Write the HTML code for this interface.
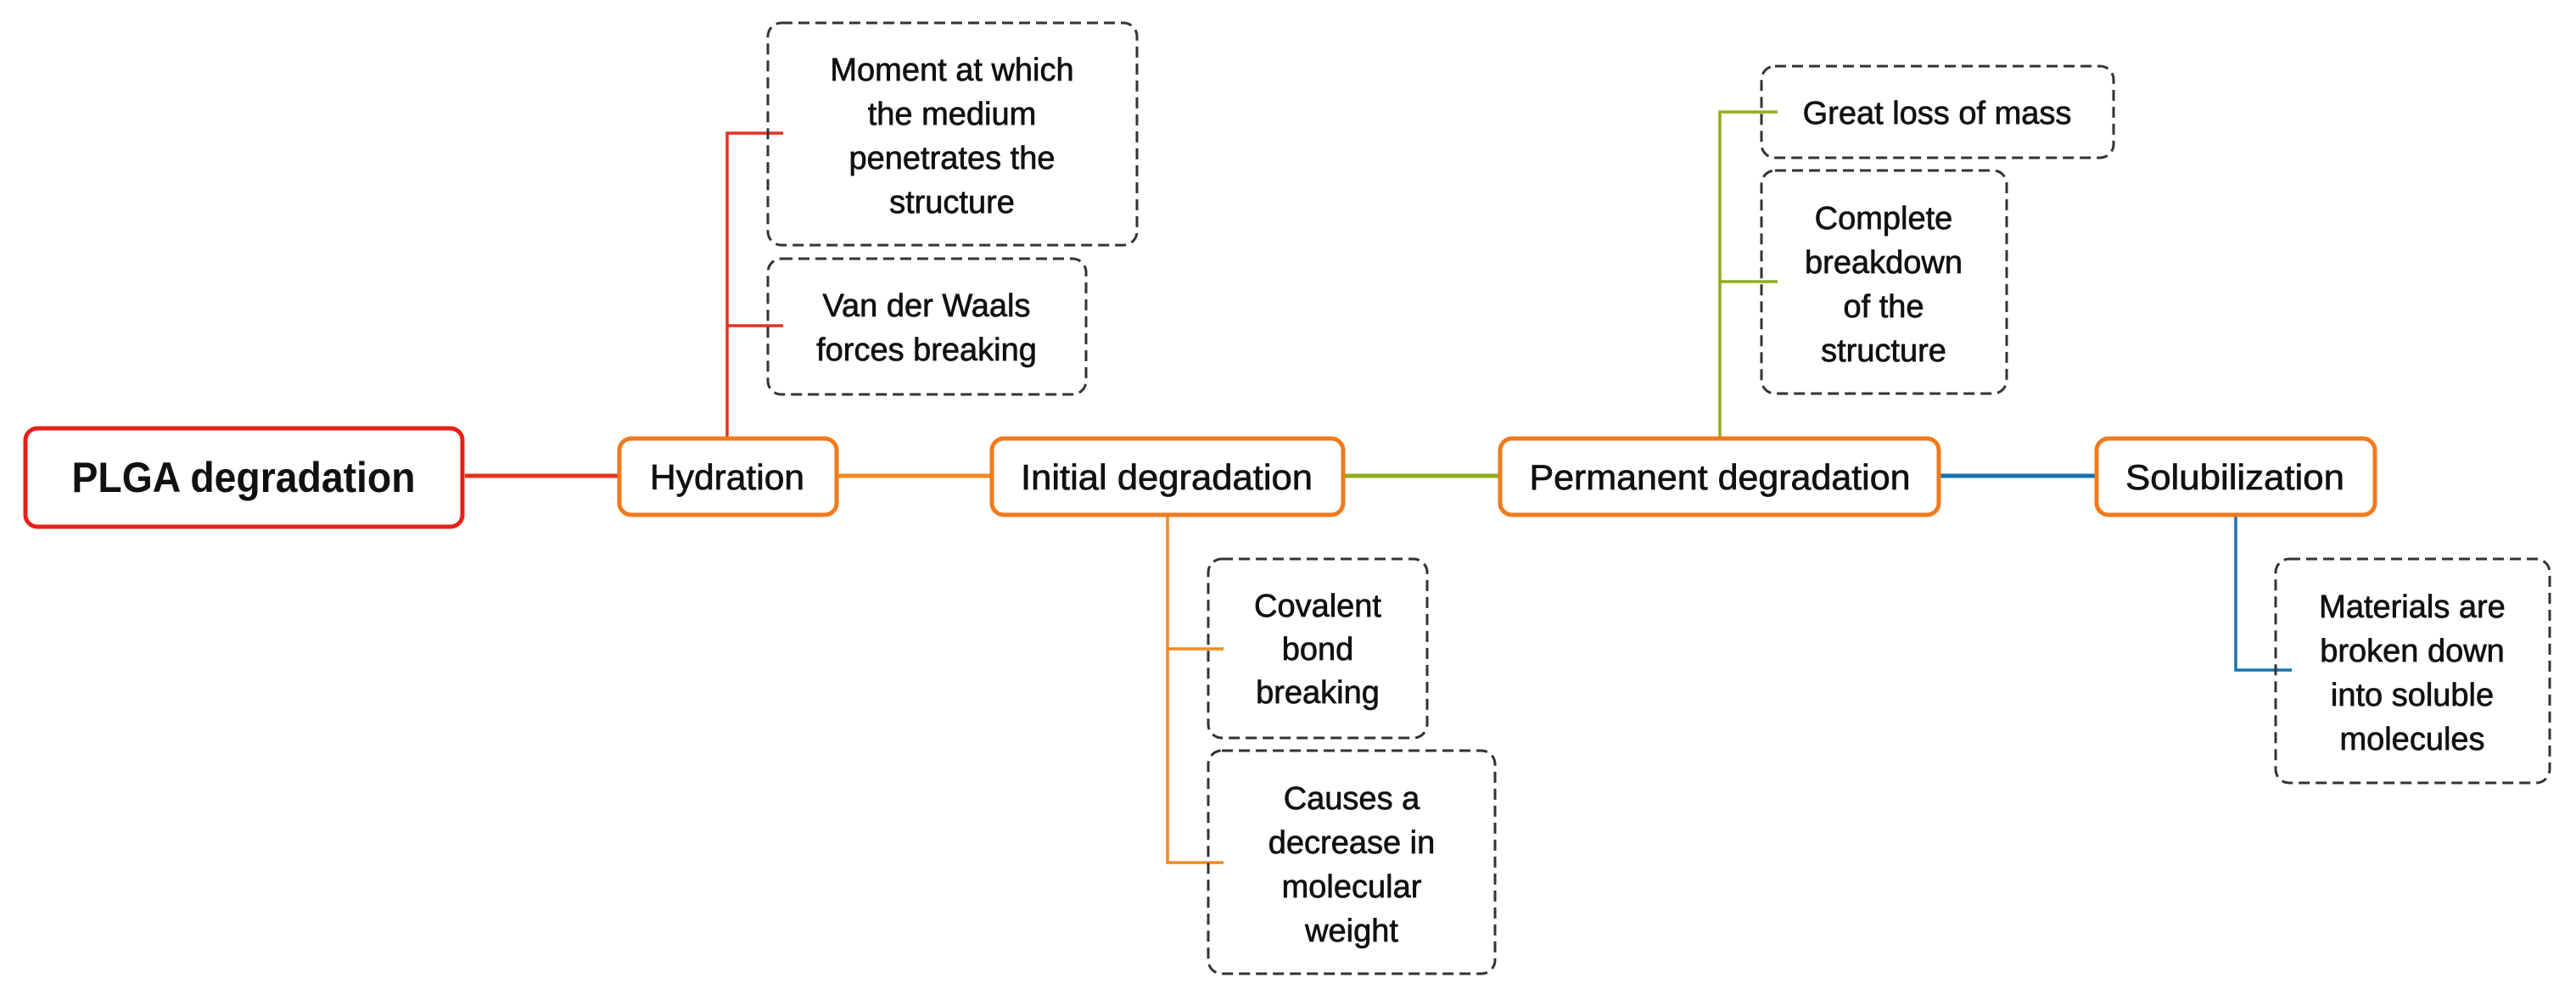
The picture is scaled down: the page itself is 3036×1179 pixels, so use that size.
<!DOCTYPE html>
<html><head><meta charset="utf-8"><style>
html,body{margin:0;padding:0;background:#fff;}
svg{display:block;}
text{font-family:"Liberation Sans",Arial,sans-serif;fill:#111;stroke:#111;stroke-width:0.7;}
.c{font-size:38px;text-anchor:middle;}
.m{font-size:42px;text-anchor:middle;}
.d{fill:none;stroke:#333;stroke-width:3;stroke-dasharray:13 7;}
.o{fill:#fff;stroke:#f07a1c;stroke-width:5;}
</style></head><body>
<svg width="3036" height="1179" viewBox="0 0 3036 1179" xmlns="http://www.w3.org/2000/svg">
<line x1="548" y1="561" x2="728" y2="561" stroke="#e5321e" stroke-width="5"/>
<line x1="987" y1="561" x2="1167" y2="561" stroke="#f08a24" stroke-width="5"/>
<line x1="1584" y1="561" x2="1766" y2="561" stroke="#8fae1f" stroke-width="5"/>
<line x1="2286" y1="561" x2="2470" y2="561" stroke="#1a72ae" stroke-width="5"/>
<g stroke="#e5321e" stroke-width="3.5" fill="none">
<polyline points="857,515 857,157 923,157"/><line x1="857" y1="384" x2="923" y2="384"/></g>
<g stroke="#f08a24" stroke-width="3.5" fill="none">
<polyline points="1376,608 1376,1017 1442,1017"/><line x1="1376" y1="765" x2="1442" y2="765"/></g>
<g stroke="#8fae1f" stroke-width="3.5" fill="none">
<polyline points="2027,515 2027,132 2095,132"/><line x1="2027" y1="332" x2="2095" y2="332"/></g>
<g stroke="#1a72ae" stroke-width="3.5" fill="none">
<polyline points="2635,608 2635,790 2701,790"/></g>
<rect x="30" y="505" width="515" height="116" rx="14" fill="#fff" stroke="#e5211a" stroke-width="5"/>
<text x="287" y="580" style="font-size:50px;font-weight:bold;text-anchor:middle;stroke-width:0" textLength="405" lengthAdjust="spacingAndGlyphs">PLGA degradation</text>
<rect class="o" x="730" y="517" width="256" height="90" rx="14"/>
<text class="m" x="857" y="577" textLength="182" lengthAdjust="spacingAndGlyphs">Hydration</text>
<rect class="o" x="1169" y="517" width="414" height="90" rx="14"/>
<text class="m" x="1375" y="577" textLength="344" lengthAdjust="spacingAndGlyphs">Initial degradation</text>
<rect class="o" x="1768" y="517" width="517" height="90" rx="14"/>
<text class="m" x="2027" y="577" textLength="449" lengthAdjust="spacingAndGlyphs">Permanent degradation</text>
<rect class="o" x="2471" y="517" width="328" height="90" rx="14"/>
<text class="m" x="2634" y="577" textLength="258" lengthAdjust="spacingAndGlyphs">Solubilization</text>
<rect class="d" x="905" y="27" width="435" height="262" rx="16"/>
<text class="c" x="1122" y="95">Moment at which</text>
<text class="c" x="1122" y="147">the medium</text>
<text class="c" x="1122" y="199">penetrates the</text>
<text class="c" x="1122" y="251">structure</text>
<rect class="d" x="905" y="305" width="375" height="160" rx="16"/>
<text class="c" x="1092" y="373">Van der Waals</text>
<text class="c" x="1092" y="425">forces breaking</text>
<rect class="d" x="1424" y="659" width="258" height="211" rx="16"/>
<text class="c" x="1553" y="727">Covalent</text>
<text class="c" x="1553" y="778">bond</text>
<text class="c" x="1553" y="829">breaking</text>
<rect class="d" x="1424" y="885" width="338" height="263" rx="16"/>
<text class="c" x="1593" y="954">Causes a</text>
<text class="c" x="1593" y="1006">decrease in</text>
<text class="c" x="1593" y="1058">molecular</text>
<text class="c" x="1593" y="1110">weight</text>
<rect class="d" x="2076" y="78" width="415" height="108" rx="16"/>
<text class="c" x="2283" y="146">Great loss of mass</text>
<rect class="d" x="2076" y="201" width="289" height="263" rx="16"/>
<text class="c" x="2220" y="270">Complete</text>
<text class="c" x="2220" y="322">breakdown</text>
<text class="c" x="2220" y="374">of the</text>
<text class="c" x="2220" y="426">structure</text>
<rect class="d" x="2682" y="659" width="323" height="264" rx="16"/>
<text class="c" x="2843" y="728">Materials are</text>
<text class="c" x="2843" y="780">broken down</text>
<text class="c" x="2843" y="832">into soluble</text>
<text class="c" x="2843" y="884">molecules</text>
</svg>
</body></html>
